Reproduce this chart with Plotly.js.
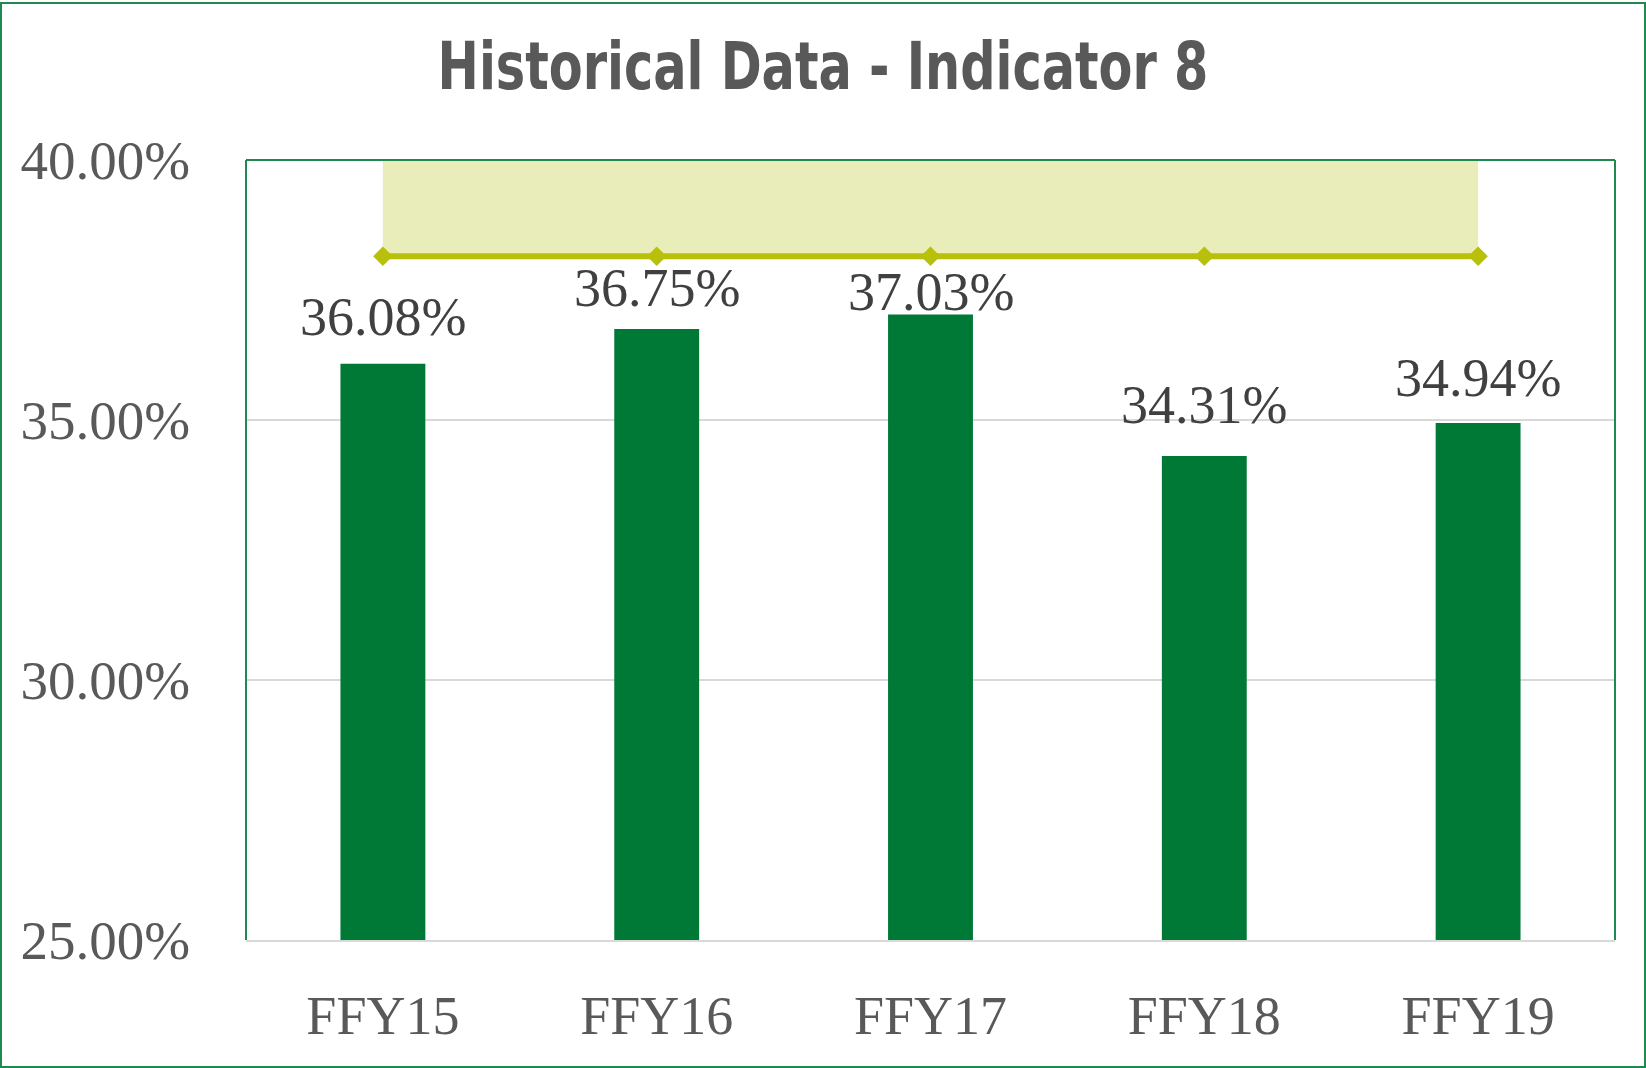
<!DOCTYPE html>
<html>
<head>
<meta charset="utf-8">
<script src="https://cdn.plot.ly/plotly-3.0.1.min.js"></script>
<style>
  html, body { margin: 0; padding: 0; background: #ffffff; }
  #wrap { position: relative; width: 1646px; height: 1068px; }
  #chart { position: absolute; left: 0; top: 0; width: 1646px; height: 1068px; }
  #frame { position: absolute; left: 0; top: 2px; width: 1646px; height: 1066px; box-sizing: border-box;
           border: 2px solid #1f8a50; pointer-events: none; }
</style>
</head>
<body>
<div id="wrap">
  <div id="chart"></div>
  <div id="frame"></div>
</div>
<script>
// ---- data ----
const categories = ["FFY15", "FFY16", "FFY17", "FFY18", "FFY19"];
const actualValues = [36.08, 36.75, 37.03, 34.31, 34.94];
const targetValues = [38.15, 38.15, 38.15, 38.15, 38.15];
const bandTopValues = [40, 40, 40, 40, 40];
const yTickValues = [25, 30, 35, 40];
const chartTitle = "Historical Data - Indicator 8";

// ---- styling (not data) ----
const labelShift = [47, 41, 22, 51, 45];
const barColor = "#007836";
const targetColor = "#b8c00a";
const bandColor = "rgba(205,214,101,0.45)";
const borderGreen = "#1f8a50";
const serif = "Liberation Serif, Times New Roman, serif";
const titleTargetWidth = 771;

const traces = [
  {
    type: "bar",
    x: categories,
    y: actualValues,
    marker: { color: barColor },
    hoverinfo: "skip",
    showlegend: false
  },
  {
    type: "scatter",
    mode: "lines",
    x: categories,
    y: bandTopValues,
    line: { width: 0, color: "rgba(0,0,0,0)" },
    hoverinfo: "skip",
    showlegend: false
  },
  {
    type: "scatter",
    mode: "lines+markers",
    x: categories,
    y: targetValues,
    fill: "tonexty",
    fillcolor: bandColor,
    line: { color: targetColor, width: 6 },
    marker: { symbol: "diamond", size: 15, color: targetColor },
    hoverinfo: "skip",
    showlegend: false
  }
];

const annotations = categories.map((c, i) => ({
  x: c,
  y: actualValues[i],
  xref: "x",
  yref: "y",
  text: actualValues[i].toFixed(2) + "%",
  showarrow: false,
  yanchor: "middle",
  yshift: labelShift[i],
  font: { family: serif, size: 54, color: "#404040" }
}));

const borderLine = { color: borderGreen, width: 2 };
const shapes = [
  { type: "line", xref: "paper", yref: "paper", x0: 0, x1: 0, y0: 0, y1: 1, line: borderLine, layer: "above" },
  { type: "line", xref: "paper", yref: "paper", x0: 0, x1: 1, y0: 1, y1: 1, line: borderLine, layer: "above" },
  { type: "line", xref: "paper", yref: "paper", x0: 1, x1: 1, y0: 0, y1: 1, line: borderLine, layer: "above" }
];

const layout = {
  width: 1646,
  height: 1068,
  margin: { l: 246, r: 31, t: 160, b: 128, pad: 0 },
  paper_bgcolor: "#ffffff",
  plot_bgcolor: "#ffffff",
  title: {
    text: "<b>" + chartTitle + "</b>",
    font: { family: "DejaVu Sans Condensed, Liberation Sans Narrow, Liberation Sans, sans-serif", size: 66, color: "#595959" },
    x: 0.5,
    xref: "container",
    xanchor: "center",
    y: 1 - 66 / 1068,
    yref: "container",
    yanchor: "middle"
  },
  bargap: 0.69,
  xaxis: {
    type: "category",
    range: [-0.5, 4.5],
    showgrid: false,
    showline: true,
    linecolor: "#d9d9d9",
    linewidth: 2,
    ticks: "",
    ticklabelstandoff: 27,
    tickfont: { family: serif, size: 54, color: "#595959" },
    fixedrange: true
  },
  yaxis: {
    range: [25, 40],
    tickvals: yTickValues,
    ticktext: yTickValues.map(v => v.toFixed(2) + "%"),
    showgrid: true,
    gridcolor: "#d9d9d9",
    gridwidth: 1.5,
    zeroline: false,
    showline: false,
    ticks: "",
    ticklabelstandoff: 55,
    tickfont: { family: serif, size: 55, color: "#595959" },
    fixedrange: true
  },
  annotations: annotations,
  shapes: shapes,
  showlegend: false
};

Plotly.newPlot("chart", traces, layout, { displayModeBar: false, staticPlot: true }).then(gd => {
  // condense the bold title horizontally to match the narrow bold face of the original
  const t = gd.querySelector(".gtitle");
  if (t) {
    const bb = t.getBBox();
    const s = Math.min(1, titleTargetWidth / bb.width);
    const cx = bb.x + bb.width / 2;
    t.setAttribute("transform", "translate(" + cx + ",0) scale(" + s + ",1) translate(" + (-cx) + ",0)");
  }
});
</script>
</body>
</html>
